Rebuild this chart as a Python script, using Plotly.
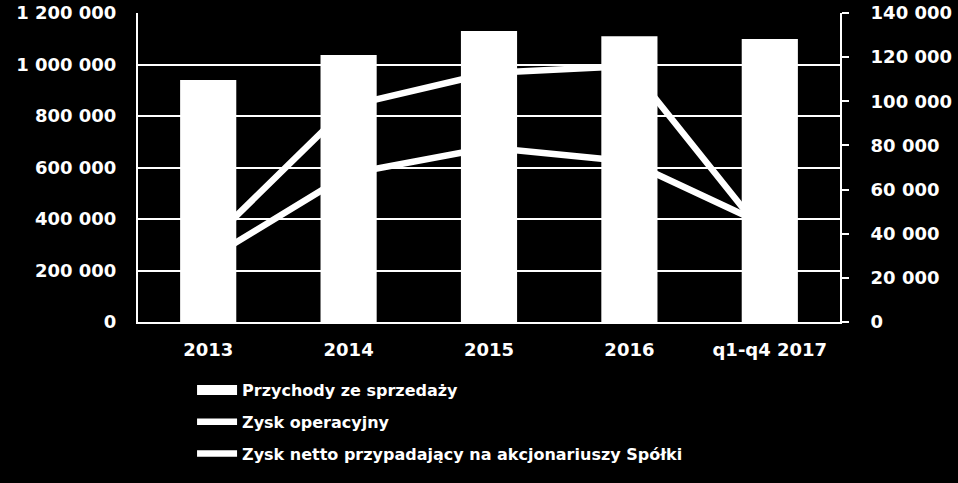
import plotly.graph_objects as go

years = ["2013", "2014", "2015", "2016", "q1-q4 2017"]
przychody = [940000, 1037000, 1130000, 1110000, 1099000]
zysk_operacyjny = [35600, 97900, 112800, 116000, 36400]
zysk_netto = [28400, 67100, 79000, 72700, 43000]

names = ["Przychody ze sprzedaży", "Zysk operacyjny",
         "Zysk netto przypadający na akcjonariuszy Spółki"]

font = dict(family="DejaVu Sans", size=18, color="white", weight="bold")
legend_font = dict(family="DejaVu Sans", size=16, color="white", weight="bold")

fig = go.Figure()
# lines go on the base axis so the bars (overlay axis) sit on top of them
fig.add_trace(go.Scatter(x=years, y=zysk_operacyjny, name=names[1], mode="lines",
                         line=dict(color="white", width=6.5), legendrank=2,
                         legendgroup="b"))
fig.add_trace(go.Scatter(x=years, y=zysk_netto, name=names[2], mode="lines",
                         line=dict(color="white", width=6.5), legendrank=3,
                         legendgroup="c"))
fig.add_trace(go.Bar(x=years, y=przychody, name=names[0], yaxis="y2",
                     marker=dict(color="white", line=dict(width=0)), showlegend=False))
# wide flat legend key for the bars
fig.add_trace(go.Scatter(x=[years[0]], y=[None], name=names[0], mode="lines",
                         line=dict(color="white", width=10), legendrank=1,
                         legendgroup="a"))

fig.update_layout(
    width=958, height=483, autosize=False,
    paper_bgcolor="black", plot_bgcolor="black",
    margin=dict(l=138, r=118, t=13, b=161),
    separators=", ",
    font=font,
    bargap=0.6,
    showlegend=True,
    legend=dict(x=0.077, y=-0.1653, xanchor="left", yanchor="top",
                font=legend_font, traceorder="grouped", tracegroupgap=8,
                bgcolor="rgba(0,0,0,0)", itemwidth=40),
    xaxis=dict(showline=True, linecolor="white", linewidth=2, showgrid=False,
               tickfont=font, ticks="", ticklabelstandoff=10, automargin=False),
    yaxis=dict(side="right", range=[0, 140000], dtick=20000, tickformat=",.0f",
               showgrid=False, zeroline=False, showline=True, linecolor="white",
               linewidth=2, ticks="outside", ticklen=7, tickcolor="white",
               tickwidth=2, tickfont=font, ticklabelstandoff=18, automargin=False),
    yaxis2=dict(side="left", overlaying="y", range=[0, 1200000], dtick=200000,
                tickformat=",.0f", showgrid=True, gridcolor="white", gridwidth=1.5,
                zeroline=False, showline=True, linecolor="white", linewidth=2,
                ticks="", tickfont=font, ticklabelstandoff=16, automargin=False),
)

fig.write_html("out.html", config={"displayModeBar": False, "responsive": False},
               post_script="document.body.style.margin='0';")
